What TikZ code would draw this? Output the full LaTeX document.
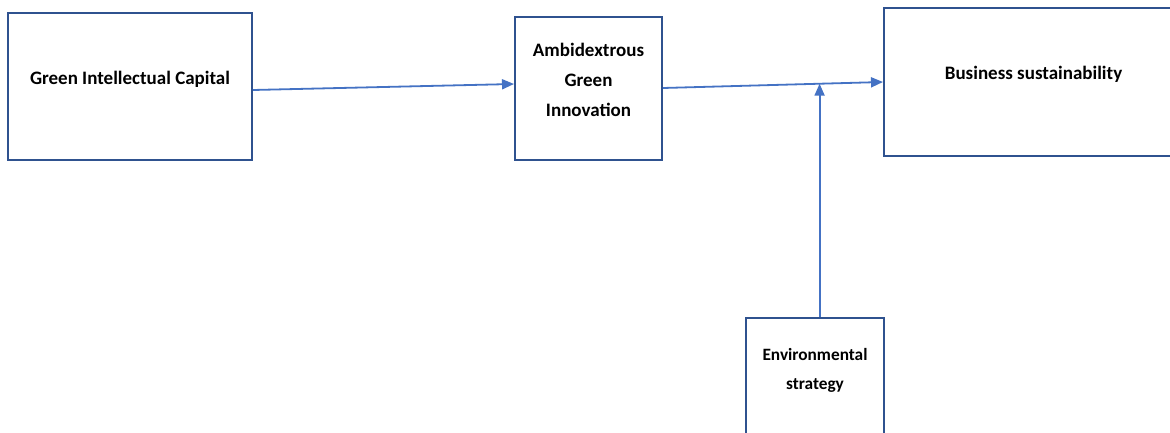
\documentclass[tikz,border=0pt]{standalone}
\usepackage{fontspec}
\setmainfont{Carlito}
\usetikzlibrary{arrows.meta,calc}

\definecolor{boxblue}{HTML}{2F528F}
\definecolor{linkblue}{HTML}{4472C4}

\begin{document}
\begin{tikzpicture}[x=1pt,y=-1pt,
    box/.style={draw=boxblue,line width=2pt,fill=white,inner sep=0pt},
    lbl/.style={font=\fontsize{19}{30}\selectfont\bfseries,align=center,inner sep=0pt},
    link/.style={draw=linkblue,line width=1.8pt,-{Triangle[length=12pt,width=10pt]}}]
\clip (0,0) rectangle (1170,433);
\fill[white] (0,0) rectangle (1170,433);
% boxes
\node[box,minimum width=244pt,minimum height=147pt] (gic) at (130,86.5) {};
\node[box,minimum width=147pt,minimum height=143pt] (agi) at (588.5,88.5) {};
\node[box,minimum width=299pt,minimum height=148pt] (bs) at (1033.5,82) {};
\node[box,minimum width=138pt,minimum height=120pt] (env) at (815,378) {};
% texts
\node[lbl] (gictxt) at (130,79) {Green Intellectual Capital};
\node[lbl] (agitxt) at (588.5,80) {Ambidextrous\\Green\\Innovation};
\node[lbl] (bstxt) at (1033.5,74) {Business sustainability};
\node[lbl,font=\fontsize{17.3}{29}\selectfont\bfseries] (envtxt) at (815,370) {Environmental\\strategy};
% links
\coordinate (join) at ($([yshift=0.5pt]agi.east)!0.7117!(bs.west)$);
\draw[link] ([yshift=-3.5pt]gic.east) -- ([yshift=4.5pt]agi.west);
\draw[link] ([yshift=0.5pt]agi.east) -- (bs.west);
\draw[link,line width=2pt] (env.north -| join) -- (join);
\end{tikzpicture}
\end{document}
